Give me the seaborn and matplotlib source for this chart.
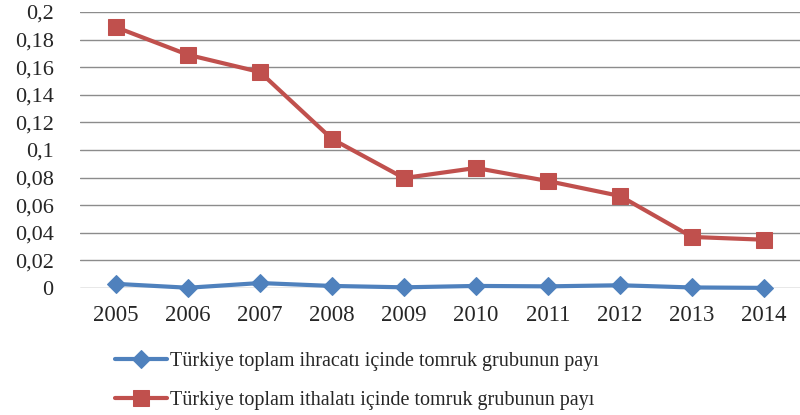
import pandas as pd
import matplotlib.pyplot as plt
import seaborn as sns

# Values
years = [2005, 2006, 2007, 2008, 2009, 2010, 2011, 2012, 2013, 2014]
ihracat_payi = [0.003, 0.0002, 0.0036, 0.0015, 0.0005, 0.0015, 0.0012, 0.002, 0.0004, 0.0001]
ithalat_payi = [0.189, 0.169, 0.1565, 0.108, 0.0797, 0.087, 0.0775, 0.0667, 0.037, 0.035]
y_ticks = [0, 0.02, 0.04, 0.06, 0.08, 0.1, 0.12, 0.14, 0.16, 0.18, 0.2]
label_ihracat = 'Türkiye toplam ihracatı içinde tomruk grubunun payı'
label_ithalat = 'Türkiye toplam ithalatı içinde tomruk grubunun payı'

df = pd.DataFrame({'yil': years, 'ihracat': ihracat_payi, 'ithalat': ithalat_payi})

sns.set_style('white')
plt.rcParams['font.family'] = ['Liberation Serif', 'DejaVu Serif']

fig = plt.figure(figsize=(8, 4.15), dpi=100)
ax = fig.add_axes([0.1, 0.306, 0.9, 0.665])

sns.lineplot(data=df, x='yil', y='ihracat', ax=ax, color='#4F81BD', linewidth=3,
             marker='D', markersize=9, markeredgecolor='#4F81BD', label=label_ihracat)
sns.lineplot(data=df, x='yil', y='ithalat', ax=ax, color='#C0504D', linewidth=3,
             marker='s', markersize=11, markeredgecolor='#C0504D', label=label_ithalat)

ax.set_xlim(years[0] - 0.5, years[-1] + 0.5)
ax.set_ylim(0, 0.2)
ax.set_xticks(years)
ax.set_xticklabels([str(y) for y in years], fontsize=16.5)
ax.set_yticks(y_ticks)
ax.set_yticklabels([('%g' % t).replace('.', ',') for t in y_ticks], fontsize=16)
ax.set_xlabel('')
ax.set_ylabel('')
ax.yaxis.grid(True, color='#8C8C8C', linewidth=1)
ax.set_axisbelow(True)
for s in ax.spines.values():
    s.set_visible(False)
ax.tick_params(axis='x', length=0, pad=12)
ax.tick_params(axis='y', length=0, pad=19)
for line in ax.lines:
    line.set_clip_on(False)

ax.legend(loc='upper center', bbox_to_anchor=(0.385, -0.165), ncol=1, frameon=False,
          fontsize=14.5, handlelength=2.6, handletextpad=0.15, labelspacing=1.0)

plt.savefig('out.png', dpi=100)
plt.close()
